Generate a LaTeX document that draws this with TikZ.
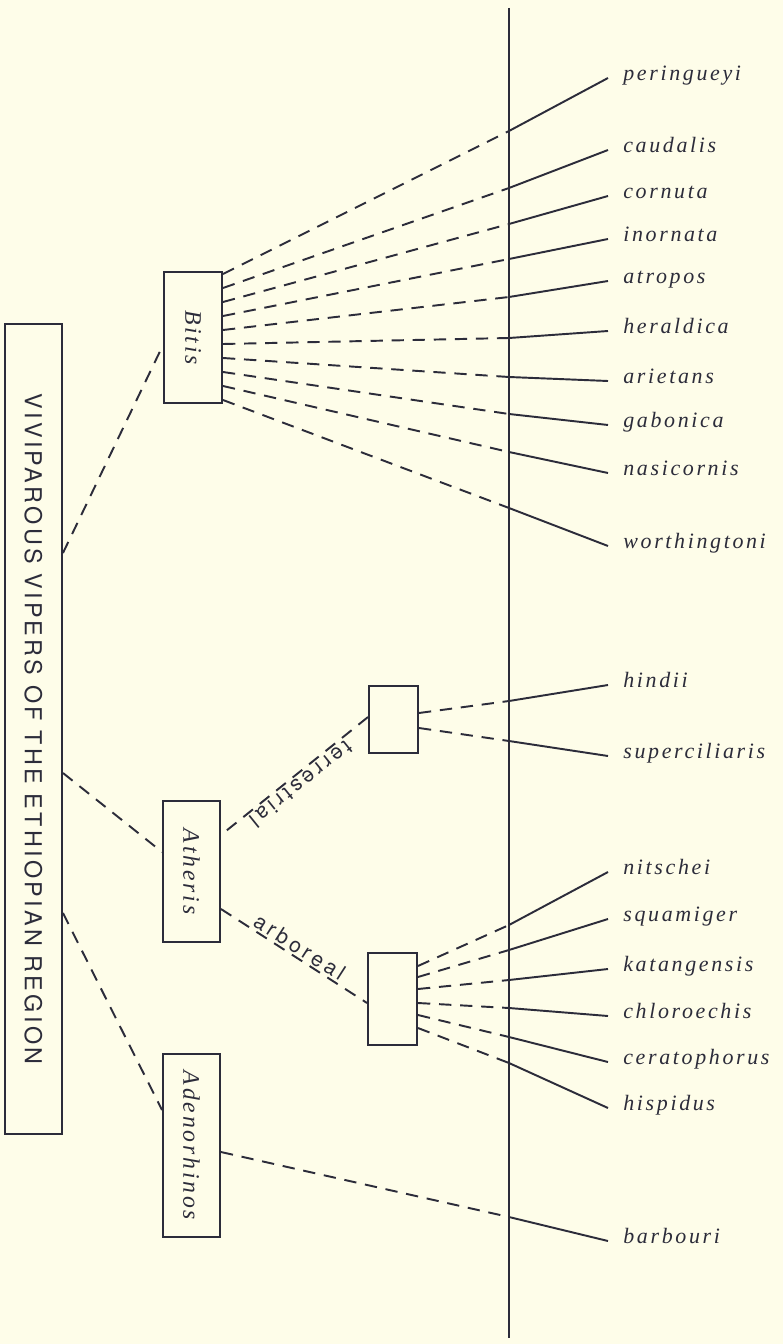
\documentclass[tikz,border=0pt]{standalone}
\usepackage{fontspec}
\usepackage{graphicx}
\newfontfamily\genusfont[LetterSpace=12]{Liberation Serif}
\newfontfamily\titlefont[LetterSpace=14]{TeX Gyre Heros}
\newfontfamily\habitfont[LetterSpace=18]{TeX Gyre Heros}
\definecolor{ink}{RGB}{44,44,58}
\definecolor{paper}{RGB}{254,253,233}
\newcommand{\genusname}[1]{\rotatebox{-90}{\genusfont\fontsize{13.5}{15}\itshape #1}}
\tikzset{
    box/.style={draw=ink, line width=1.1pt, inner sep=0pt, text=ink},
    link/.style={draw=ink, line width=1.1pt, dash pattern=on 7pt off 5pt},
    stem/.style={draw=ink, line width=1.1pt},
    species/.style={anchor=west, inner xsep=0.3cm, inner ysep=0pt, text=ink,
        font=\genusfont\fontsize{12.5}{14}\itshape, text height=1.2ex, text depth=0.6ex},
    habit/.style={text=ink, inner sep=1pt, font=\habitfont\fontsize{12}{14}\selectfont}
}
\begin{document}
\begin{tikzpicture}[x=0.02cm, y=-0.02cm]
    \useasboundingbox (0,0) rectangle (783,1344);
    \fill[paper] (0,0) rectangle (783,1344);

    \node[box, minimum width=1.14cm, minimum height=16.2cm] (region) at (33.5,729)
        {\rotatebox{-90}{\titlefont\fontsize{13.3}{15}\selectfont VIVIPAROUS VIPERS OF THE ETHIOPIAN REGION}};
    \node[box, minimum width=1.16cm, minimum height=2.62cm] (bitis) at (193,337.5) {\genusname{Bitis}};
    \node[box, minimum width=1.14cm, minimum height=2.82cm] (atheris) at (191.5,871.5) {\genusname{Atheris}};
    \node[box, minimum width=1.14cm, minimum height=3.66cm] (adenorhinos) at (191.5,1145.5) {\genusname{Adenorhinos}};
    \node[box, minimum width=0.98cm, minimum height=1.34cm] (terr) at (393.5,719.5) {};
    \node[box, minimum width=0.98cm, minimum height=1.84cm] (arb) at (392.5,999) {};

    \coordinate (top) at (509,8);
    \coordinate (bottom) at (509,1338);
    \draw[stem] (top) -- (bottom);

    \draw[link] (region.east |- 0,553) -- (bitis.west |- 0,345);
    \draw[link] (region.east |- 0,773) -- (atheris.west |- 0,852);
    \draw[link] (region.east |- 0,913) -- (adenorhinos.west |- 0,1110);

    \draw[link] (terr.west |- 0,717) -- node[habit, sloped, allow upside down, above] {terrestrial} (atheris.east |- 0,835);
    \draw[link] (atheris.east |- 0,909) -- node[habit, sloped, above] {arboreal} (arb.west |- 0,1003);

    % Bitis
    \node[species] (peringueyi) at (608,78) {peringueyi};
    \node[species] (caudalis) at (608,150) {caudalis};
    \node[species] (cornuta) at (608,196) {cornuta};
    \node[species] (inornata) at (608,239) {inornata};
    \node[species] (atropos) at (608,281) {atropos};
    \node[species] (heraldica) at (608,331) {heraldica};
    \node[species] (arietans) at (608,381) {arietans};
    \node[species] (gabonica) at (608,425) {gabonica};
    \node[species] (nasicornis) at (608,473) {nasicornis};
    \node[species] (worthingtoni) at (608,546) {worthingtoni};

    \coordinate (j-peringueyi) at (509,131);
    \coordinate (j-caudalis) at (509,188);
    \coordinate (j-cornuta) at (509,224);
    \coordinate (j-inornata) at (509,259);
    \coordinate (j-atropos) at (509,297);
    \coordinate (j-heraldica) at (509,338);
    \coordinate (j-arietans) at (509,377);
    \coordinate (j-gabonica) at (509,414);
    \coordinate (j-nasicornis) at (509,452);
    \coordinate (j-worthingtoni) at (509,508);

    \draw[link] (bitis.east |- 0,274) -- (j-peringueyi);
    \draw[link] (bitis.east |- 0,288) -- (j-caudalis);
    \draw[link] (bitis.east |- 0,302) -- (j-cornuta);
    \draw[link] (bitis.east |- 0,316) -- (j-inornata);
    \draw[link] (bitis.east |- 0,330) -- (j-atropos);
    \draw[link] (bitis.east |- 0,344) -- (j-heraldica);
    \draw[link] (bitis.east |- 0,358) -- (j-arietans);
    \draw[link] (bitis.east |- 0,372) -- (j-gabonica);
    \draw[link] (bitis.east |- 0,386) -- (j-nasicornis);
    \draw[link] (bitis.east |- 0,400) -- (j-worthingtoni);

    \draw[stem] (j-peringueyi) -- (peringueyi.west);
    \draw[stem] (j-caudalis) -- (caudalis.west);
    \draw[stem] (j-cornuta) -- (cornuta.west);
    \draw[stem] (j-inornata) -- (inornata.west);
    \draw[stem] (j-atropos) -- (atropos.west);
    \draw[stem] (j-heraldica) -- (heraldica.west);
    \draw[stem] (j-arietans) -- (arietans.west);
    \draw[stem] (j-gabonica) -- (gabonica.west);
    \draw[stem] (j-nasicornis) -- (nasicornis.west);
    \draw[stem] (j-worthingtoni) -- (worthingtoni.west);

    % Atheris, terrestrial
    \node[species] (hindii) at (608,685) {hindii};
    \node[species] (superciliaris) at (608,756) {superciliaris};
    \coordinate (j-hindii) at (509,701);
    \coordinate (j-superciliaris) at (509,741);
    \draw[link] (terr.east |- 0,713) -- (j-hindii);
    \draw[link] (terr.east |- 0,728) -- (j-superciliaris);
    \draw[stem] (j-hindii) -- (hindii.west);
    \draw[stem] (j-superciliaris) -- (superciliaris.west);

    % Atheris, arboreal
    \node[species] (nitschei) at (608,872) {nitschei};
    \node[species] (squamiger) at (608,919) {squamiger};
    \node[species] (katangensis) at (608,969) {katangensis};
    \node[species] (chloroechis) at (608,1016) {chloroechis};
    \node[species] (ceratophorus) at (608,1062) {ceratophorus};
    \node[species] (hispidus) at (608,1108) {hispidus};

    \coordinate (j-nitschei) at (509,925);
    \coordinate (j-squamiger) at (509,950);
    \coordinate (j-katangensis) at (509,980);
    \coordinate (j-chloroechis) at (509,1008);
    \coordinate (j-ceratophorus) at (509,1037);
    \coordinate (j-hispidus) at (509,1063);

    \draw[link] (arb.east |- 0,966) -- (j-nitschei);
    \draw[link] (arb.east |- 0,977) -- (j-squamiger);
    \draw[link] (arb.east |- 0,989) -- (j-katangensis);
    \draw[link] (arb.east |- 0,1003) -- (j-chloroechis);
    \draw[link] (arb.east |- 0,1015) -- (j-ceratophorus);
    \draw[link] (arb.east |- 0,1028) -- (j-hispidus);

    \draw[stem] (j-nitschei) -- (nitschei.west);
    \draw[stem] (j-squamiger) -- (squamiger.west);
    \draw[stem] (j-katangensis) -- (katangensis.west);
    \draw[stem] (j-chloroechis) -- (chloroechis.west);
    \draw[stem] (j-ceratophorus) -- (ceratophorus.west);
    \draw[stem] (j-hispidus) -- (hispidus.west);

    % Adenorhinos
    \node[species] (barbouri) at (608,1241) {barbouri};
    \coordinate (j-barbouri) at (509,1217);
    \draw[link] (adenorhinos.east |- 0,1152) -- (j-barbouri);
    \draw[stem] (j-barbouri) -- (barbouri.west);

\end{tikzpicture}
\end{document}
